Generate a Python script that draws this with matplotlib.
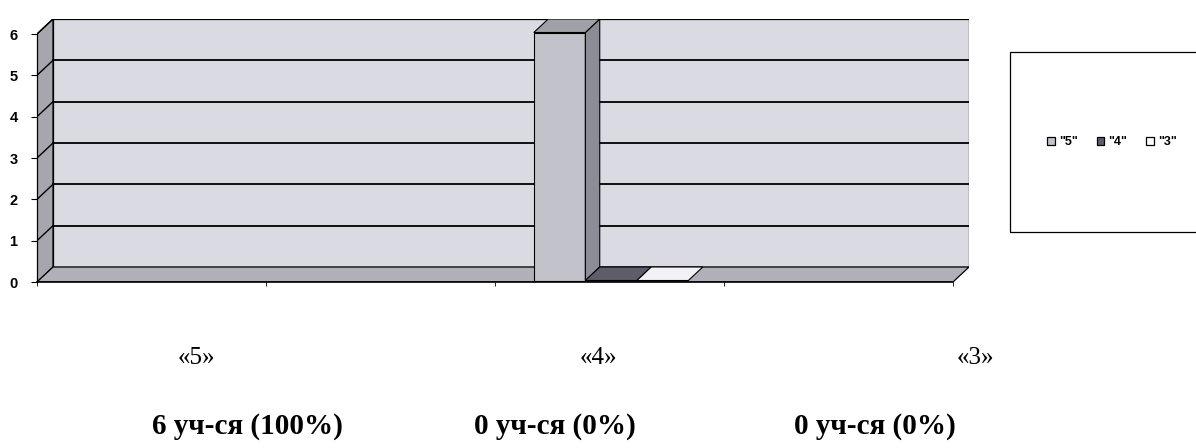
import matplotlib
matplotlib.use("Agg")
import matplotlib.pyplot as plt
from matplotlib.patches import Polygon, Rectangle, Patch
import numpy as np

# ---- data ----
categories = ["", "", "", ""]
series_names = ['"5"', '"4"', '"3"']
values_5 = [None, None, 6, None]
values_4 = [None, None, 0, None]
values_3 = [None, None, 0, None]
yticks = [0, 1, 2, 3, 4, 5, 6]
grade_labels = ["«5»", "«4»", "«3»"]
count_labels = ["6 уч-ся (100%)", "0 уч-ся (0%)", "0 уч-ся (0%)"]

series_values = [values_5, values_4, values_3]
face_colors = ["#c2c2ca", "#5e5e6a", "#f2f2f6"]
side_colors = ["#8c8c96", "#45454f", "#c8c8d0"]
top_colors = ["#a0a0a8", "#5e5e6a", "#f2f2f6"]

W, H = 1196, 448
fig = plt.figure(figsize=(W / 100, H / 100), dpi=100)

# layout of front plane (pixels) and depth offset
FX0, FX1 = 37, 953
FY0, FY1 = 282, 34
DPX, DPY = 16, 15
ymax = 6
n = len(categories)
dx = DPX * n / (FX1 - FX0)
dy = DPY * ymax / (FY0 - FY1)

ax = fig.add_axes([FX0 / W, (H - FY0) / H, (FX1 + DPX - FX0) / W, (FY0 - FY1 + DPY) / H])
ax.set_xlim(-0.5, n - 0.5 + dx)
ax.set_ylim(0, ymax + dy)

xl, xr = -0.5, n - 0.5
wall_kw = dict(edgecolor="black", linewidth=0.9, zorder=1)
# back wall
ax.add_patch(Rectangle((xl + dx, dy), xr - xl, ymax, facecolor="#dadae3", **wall_kw))
# side wall
ax.add_patch(Polygon([(xl, 0), (xl + dx, dy), (xl + dx, ymax + dy), (xl, ymax)],
                     closed=True, facecolor="#a6a6ae", **wall_kw))
# floor
ax.add_patch(Polygon([(xl, 0), (xr, 0), (xr + dx, dy), (xl + dx, dy)],
                     closed=True, facecolor="#b0b0b8", **wall_kw))

# gridlines
for v in yticks[1:]:
    ax.plot([xl + dx, xr + dx], [v + dy, v + dy], color="black", lw=1.3, zorder=2)
    ax.plot([xl, xl + dx], [v, v + dy], color="black", lw=1.0, zorder=2)

# bars
w = 0.225
f0, f1 = 0.1, 1.0
for i, vals in enumerate(series_values):
    for c, v in enumerate(vals):
        if v is None:
            continue
        x0 = c - 1.5 * w + i * w
        ax0, ay0 = x0 + f0 * dx, f0 * dy
        bx, by = (f1 - f0) * dx, (f1 - f0) * dy
        kw = dict(closed=True, edgecolor="black", linewidth=0.8, zorder=3)
        if v > 0:
            ax.add_patch(Polygon([(ax0, ay0), (ax0 + w, ay0), (ax0 + w, ay0 + v), (ax0, ay0 + v)],
                                 facecolor=face_colors[i], **kw))
            ax.add_patch(Polygon([(ax0 + w, ay0), (ax0 + w + bx, ay0 + by),
                                  (ax0 + w + bx, ay0 + by + v), (ax0 + w, ay0 + v)],
                                 facecolor=side_colors[i], **kw))
        ax.add_patch(Polygon([(ax0, ay0 + v), (ax0 + w, ay0 + v),
                              (ax0 + w + bx, ay0 + by + v), (ax0 + bx, ay0 + by + v)],
                             facecolor=top_colors[i], **kw))

# axes styling
for s in ["top", "right"]:
    ax.spines[s].set_visible(False)
ax.spines["left"].set_bounds(0, ymax)
ax.spines["bottom"].set_bounds(xl, xr)
ax.spines["left"].set_linewidth(0.9)
ax.spines["bottom"].set_linewidth(1.2)
ax.set_facecolor("none")
ax.set_yticks(yticks)
ax.set_yticklabels([str(t) for t in yticks], fontfamily="Liberation Sans",
                   fontweight="bold", fontsize=10.5)
ax.tick_params(axis="y", length=4, width=0.8, pad=10)
ax.set_xticks(np.arange(n + 1) - 0.5)
ax.set_xticklabels([""] * (n + 1))
ax.tick_params(axis="x", length=3, width=0.6)

# legend box
fig.patches.append(Rectangle((1010 / W, (H - 232) / H), 200 / W, 180 / H,
                             transform=fig.transFigure, facecolor="white",
                             edgecolor="black", linewidth=0.9, clip_on=False))
handles = [Patch(facecolor=face_colors[0], edgecolor="black", linewidth=0.9),
           Patch(facecolor=face_colors[1], edgecolor="black", linewidth=0.9),
           Patch(facecolor="white", edgecolor="black", linewidth=0.9)]
fig.legend(handles, series_names, ncol=3, loc="center",
           bbox_to_anchor=(1112 / W, (H - 142) / H), frameon=False,
           handlelength=0.6, handleheight=0.6, handletextpad=0.35,
           columnspacing=1.5, prop={"family": "Liberation Sans", "weight": "bold", "size": 9})

# texts below
grade_x = [196, 598, 975]
count_x = [247, 555, 875]
for gx, g in zip(grade_x, grade_labels):
    fig.text(gx / W, (H - 358) / H, g, ha="center", va="center",
             fontfamily="Liberation Serif", fontsize=18)
for cx, t in zip(count_x, count_labels):
    fig.text(cx / W, (H - 426) / H, t, ha="center", va="center",
             fontfamily="Liberation Serif", fontweight="bold", fontsize=21)

fig.savefig("out.png", dpi=100, facecolor="white")
